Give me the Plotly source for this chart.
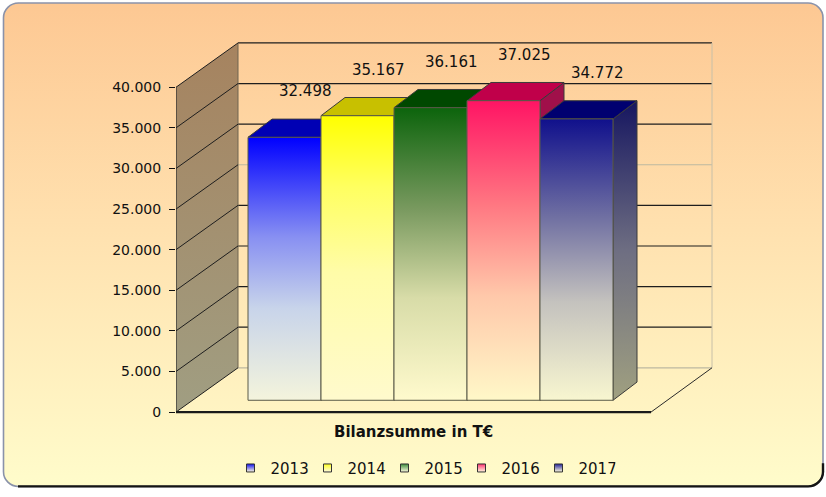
import base64
import plotly.graph_objects as go

# ---------------- data ----------------
YEARS = ["2013", "2014", "2015", "2016", "2017"]
VALUES = [32498, 35167, 36161, 37025, 34772]
TICK_VALUES = [0, 5000, 10000, 15000, 20000, 25000, 30000, 35000, 40000]
TICK_LABELS = ["0", "5.000", "10.000", "15.000", "20.000", "25.000", "30.000", "35.000", "40.000"]
CATEGORY_LABEL = "Bilanzsumme in T€"

# ---------------- styles ----------------
FONT = "DejaVu Sans"
FRONT_SCALES = [
    [[0, "#F4F4DC"], [0.35, "#C8D4EA"], [0.62, "#8890F2"], [1, "#0000FF"]],
    [[0, "#FFFACD"], [0.45, "#FFFCA8"], [0.75, "#FFFF60"], [1, "#FFFF00"]],
    [[0, "#FFFACD"], [0.35, "#D8DCA8"], [0.65, "#7A9A60"], [1, "#0C640C"]],
    [[0, "#FFF8C8"], [0.35, "#FFC8AA"], [0.65, "#FF7882"], [1, "#FF1464"]],
    [[0, "#F8F6D0"], [0.35, "#C4C2BE"], [0.65, "#7070A2"], [1, "#10108C"]],
]
TOP_COLORS = ["#0000B4", "#C8C000", "#004800", "#C0004A", "#000070"]
SIDE_SCALES = [
    [[0, "#0000A0"], [1, "#0000A0"]],
    [[0, "#B0B000"], [1, "#B0B000"]],
    [[0, "#003000"], [1, "#003000"]],
    [[0, "#A0104A"], [1, "#A0104A"]],
    [[0, "#A0A080"], [0.5, "#6E6E82"], [1, "#161660"]],
]
LEGEND_COLORS = ["#1010F0", "#FFFF20", "#3A8A3A", "#FF3070", "#20209A"]
EDGE = "#3A3A3A"

# ---------------- geometry (layout pixels) ----------------
W, H = 826, 497
PL, PR, PT, PB = 176, 716, 40, 424          # plot area
FRONT_Y0, FRONT_Y40 = 418, 88               # front axis: 0 and 40.000
PX_Y = (FRONT_Y0 - FRONT_Y40) / 40000.0     # px per unit (front axis)
BAR_Y0, BAR_K = 406, 8.22 / 1000.0          # bar scale: baseline px, px per unit
X_UNIT = 73.0                               # px per category
FIRST_BAR_LEFT = 248

XA = -0.5 - (FIRST_BAR_LEFT - PL) / X_UNIT
XB = XA + (PR - PL) / X_UNIT
y_range = [-(PB - FRONT_Y0) / PX_Y, (FRONT_Y0 - PT) / PX_Y]
y2_range = [-(PB - BAR_Y0) / BAR_K, (BAR_Y0 - PT) / BAR_K]

DXW = 62 / X_UNIT           # wall depth
DYW = 45 / PX_Y
XF = XA + (651 - PL) / X_UNIT      # floor front right
XWR = XA + (712 - PL) / X_UNIT     # back wall right
DXB = 24 / X_UNIT                  # bar depth
DYB = 18.5 / BAR_K

TOP = TICK_VALUES[-1]

fig = go.Figure()

def poly(xs, ys, yaxis="y", **kw):
    fig.add_trace(go.Scatter(x=xs, y=ys, yaxis=yaxis, mode="lines", fill="toself",
                             showlegend=False, hoverinfo="skip", **kw))

def lines(segs, color, width=1, yaxis="y"):
    xs, ys = [], []
    for (x0, y0, x1, y1) in segs:
        xs += [x0, x1, None]
        ys += [y0, y1, None]
    fig.add_trace(go.Scatter(x=xs, y=ys, yaxis=yaxis, mode="lines",
                             line=dict(color=color, width=width),
                             showlegend=False, hoverinfo="skip"))

# side wall
poly([XA, XA, XA + DXW, XA + DXW, XA], [0, TOP, TOP + DYW, DYW, 0],
     line=dict(width=0),
     fillgradient=dict(type="vertical", colorscale=[[0, "#A09E82"], [1, "#A6835F"]]))

# back wall gridlines
light = [25000, 0]
lines([(XA + DXW, v + DYW, XWR, v + DYW) for v in TICK_VALUES if v not in light], "#1E1E1E", 1.2)
lines([(XA + DXW, v + DYW, XWR, v + DYW) for v in TICK_VALUES if v in light], "#BDB8A0", 1.2)
# back wall edges
lines([(XA + DXW, DYW, XA + DXW, TOP + DYW)], "#6E6450", 1)
lines([(XWR, DYW, XWR, TOP + DYW)], "#C8C0A8", 1)
# side wall diagonals
lines([(XA, v, XA + DXW, v + DYW) for v in TICK_VALUES], "#1E1E1E", 1)
# floor edges
lines([(XF, 0, XWR, DYW)], "#2A2A2A", 1)
lines([(XA, 0, XA, TOP)], "#2A2A2A", 1.2)
lines([(XA, 0, XF, 0)], "#1A1A1A", 2.2)

# bars
for i, (yr, v) in enumerate(zip(YEARS, VALUES)):
    x0, x1 = i - 0.5, i + 0.5
    poly([x1, x1 + DXB, x1 + DXB, x1, x1], [0, DYB, v + DYB, v, 0], yaxis="y2",
         line=dict(color=EDGE, width=1),
         fillgradient=dict(type="vertical", colorscale=SIDE_SCALES[i]))
    poly([x0, x1, x1 + DXB, x0 + DXB, x0], [v, v, v + DYB, v + DYB, v], yaxis="y2",
         line=dict(color=EDGE, width=1), fillcolor=TOP_COLORS[i])
    poly([x0, x1, x1, x0, x0], [0, 0, v, v, 0], yaxis="y2",
         line=dict(color="#5A5A48", width=1),
         fillgradient=dict(type="vertical", colorscale=FRONT_SCALES[i]))
    fig.add_annotation(x=i, y=v, xref="x", yref="y2", text=f"{v:,}".replace(",", "."),
                       showarrow=False, xshift=21, yshift=46, yanchor="middle",
                       font=dict(family=FONT, size=15, color="#111111"))

# legend entries
for i, yr in enumerate(YEARS):
    fig.add_trace(go.Scatter(x=[None], y=[None], mode="markers", name=yr,
                             marker=dict(symbol="square", size=8, color=LEGEND_COLORS[i],
                                         gradient=dict(type="vertical", color="#FFFBE0"),
                                         line=dict(color="#333333", width=1))))

# background card
svg = f'''<svg xmlns="http://www.w3.org/2000/svg" width="{W}" height="{H}" viewBox="0 0 {W} {H}" preserveAspectRatio="none">
<defs><linearGradient id="g" x1="0" y1="0" x2="0" y2="1">
<stop offset="0" stop-color="#FDC893"/><stop offset="0.45" stop-color="#FFE0AE"/><stop offset="1" stop-color="#FFFCCB"/>
</linearGradient></defs>
<rect x="3.5" y="2.5" width="819.5" height="491" rx="15" ry="15" fill="url(#g)" stroke="#8A92AA" stroke-width="1.6"/>
<path d="M 823 470 L 823 478 A 15 15 0 0 1 808 493.5 L 18 493.5" fill="none" stroke="#151515" stroke-width="2.4"/>
</svg>'''
src = "data:image/svg+xml;base64," + base64.b64encode(svg.encode("utf-8")).decode("ascii")
pw, ph = PR - PL, PB - PT
fig.add_layout_image(source=src, xref="paper", yref="paper",
                     x=-PL / pw, y=1 + PT / ph, sizex=W / pw, sizey=H / ph,
                     xanchor="left", yanchor="top", sizing="stretch", layer="below")

# category label
fig.add_annotation(x=(413 - PL) / pw, y=(PB - 438) / ph, xref="paper", yref="paper",
                   text=f"<b>{CATEGORY_LABEL}</b>", showarrow=False,
                   xanchor="center", yanchor="middle",
                   font=dict(family=FONT, size=15, color="#111111"))

fig.update_layout(
    width=W, height=H, autosize=False,
    margin=dict(l=PL, r=W - PR, t=PT, b=H - PB, pad=0),
    paper_bgcolor="white", plot_bgcolor="rgba(0,0,0,0)",
    font=dict(family=FONT, color="#111111"),
    xaxis=dict(range=[XA, XB], visible=False, fixedrange=True),
    yaxis=dict(range=y_range, tickvals=TICK_VALUES, ticktext=TICK_LABELS,
               ticks="outside", ticklen=6, tickcolor="#111111", tickwidth=1,
               showgrid=False, zeroline=False, showline=False,
               tickfont=dict(family=FONT, size=14, color="#111111"),
               ticklabelstandoff=5, fixedrange=True),
    yaxis2=dict(range=y2_range, overlaying="y", visible=False, fixedrange=True),
    legend=dict(orientation="h", x=(423 - PL) / pw, xanchor="center",
                y=(PB - 475) / ph, yanchor="middle",
                font=dict(family=FONT, size=15, color="#111111"),
                bgcolor="rgba(0,0,0,0)", itemwidth=30,
                entrywidth=32, entrywidthmode="pixels"),
    showlegend=True,
)

fig.write_html("out.html", config={"displayModeBar": False},
               post_script="document.body.style.margin='0';document.body.style.overflow='hidden';")
